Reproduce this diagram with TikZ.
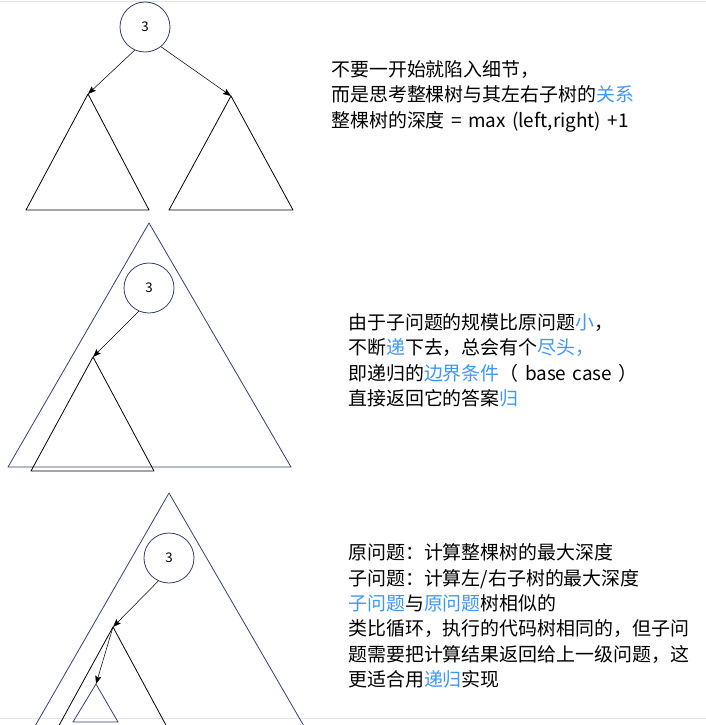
\documentclass[tikz,border=0pt]{standalone}
\usepackage{fontspec}
\usetikzlibrary{arrows.meta}
\newfontfamily\cjk[WordSpace=1.5]{Noto Sans CJK SC}
\definecolor{treenavy}{HTML}{34406E}
\definecolor{kwblue}{HTML}{4096FF}
\definecolor{edgegray}{HTML}{E3E3E3}
\newcommand\kw[1]{\textcolor{kwblue}{#1}}
\begin{document}
\begin{tikzpicture}[x=0.75pt,y=-0.75pt,>={Stealth[length=6pt,width=4.5pt,inset=1pt]}, line join=round, line cap=round,
  navy/.style={draw=treenavy, line width=0.6pt},
  sub/.style={draw=black, line width=0.6pt},
  root/.style={circle, draw=treenavy, line width=0.6pt, minimum size=37.5pt, inner sep=0pt, font={\cjk\fontsize{10}{10}\selectfont}},
  note/.style={anchor=west, align=left, inner sep=0pt, font={\cjk\fontsize{14.2}{19.1}\selectfont}}]
			\clip (0,0) rectangle (706,725);
			\draw[edgegray] (0,1)--(706,1) (0,718)--(706,718);
			% whole tree with two subtrees
			\node[root] (r1) at (145,27) {3};
			\coordinate (L1) at (88,94);
			\coordinate (R1) at (231,96);
			\draw[sub] (L1)--(26,210)--(149,210)--cycle;
			\draw[sub] (R1)--(169,210)--(293,210)--cycle;
			\draw[->] (r1.246)--(L1);
			\draw[->] (r1.309)--(R1);
			\node[note] (t1) at (331,96) {不要一开始就陷入细节，\\而是思考整棵树与其左右子树的\kw{关系}\\整棵树的深度 = max (left,right) +1};
			% subproblem inside the tree
			\coordinate (T2) at (149,223);
			\draw[navy] (T2)--(8,467)--(291,467)--cycle;
			\node[root] (r2) at (149,288) {3};
			\coordinate (L2) at (93,357);
			\draw[sub] (L2)--(31,471)--(154,471)--cycle;
			\draw[->] (r2.246)--(L2);
			\node[note] (t2) at (348,360.5) {由于子问题的规模比原问题\kw{小}，\\不断\kw{递}下去，总会有个\kw{尽头，}\\即递归的\kw{边界条件}（ base case ）\\直接返回它的答案\kw{归}};
			% recursion down to the base case
			\coordinate (T3) at (169,493);
			\draw[navy] (T3)--(27,740)--(312,740)--cycle;
			\node[root] (r3) at (169,558) {3};
			\coordinate (L3) at (113,627);
			\draw[sub] (L3)--(51,740)--(174,740)--cycle;
			\coordinate (B3) at (96,684);
			\draw[navy] (B3)--(73,722)--(118,722)--cycle;
			\draw[->] (r3.245)--(L3);
			\draw[->] (L3)--(B3);
			\node[note] (t3) at (348,616) {原问题：计算整棵树的最大深度\\子问题：计算左/右子树的最大深度\\\kw{子问题}与\kw{原问题}树相似的\\类比循环，执行的代码树相同的，但子问\\题需要把计算结果返回给上一级问题，这\\更适合用\kw{递归}实现};
		\end{tikzpicture}
\end{document}
